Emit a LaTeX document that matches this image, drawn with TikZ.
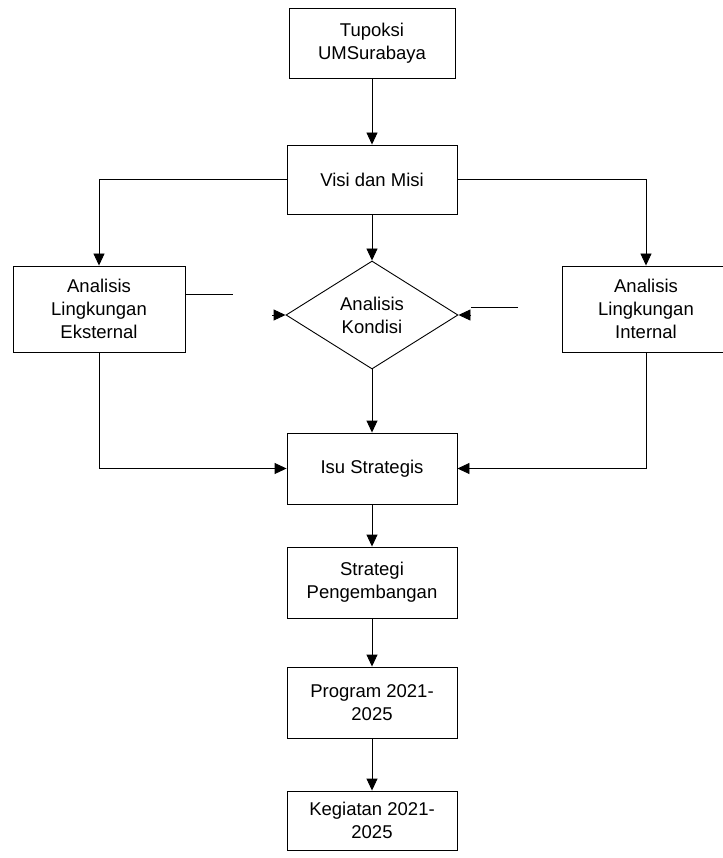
\documentclass[tikz,border=0pt]{standalone}
\usepackage{fontspec}
\setmainfont{Liberation Sans}
\usetikzlibrary{shapes.geometric,arrows.meta}
\begin{document}
\begin{tikzpicture}[x=1pt,y=-1pt,
  box/.style={draw=black,line width=0.9pt,rectangle,inner sep=0pt,align=center,
    font=\fontsize{18.5}{23}\selectfont},
  dia/.style={draw=black,line width=0.9pt,diamond,aspect=1.6,inner sep=0pt,align=center,
    minimum width=172pt,minimum height=108pt,font=\fontsize{18.5}{23}\selectfont},
  ln/.style={draw=black,line width=0.9pt},
  arr/.style={ln,-{Triangle[length=12pt,width=11pt]}}]
\useasboundingbox (0,0) rectangle (722,858);
\node[box,minimum width=166pt,minimum height=70pt] (tup) at (372,43) {Tupoksi\\UMSurabaya};
\node[box,minimum width=170pt,minimum height=69pt] (visi) at (372,179.5) {Visi dan Misi};
\node[box,minimum width=172pt,minimum height=86pt] (eks) at (99,309) {Analisis\\Lingkungan\\Eksternal};
\node[box,minimum width=168pt,minimum height=86pt] (int) at (646,309) {Analisis\\Lingkungan\\Internal};
\node[dia] (kon) at (372,315) {Analisis\\Kondisi};
\node[box,minimum width=170pt,minimum height=71pt] (isu) at (372,468.5) {Isu Strategis};
\node[box,minimum width=170pt,minimum height=71pt] (str) at (372,582.5) {Strategi\\Pengembangan};
\node[box,minimum width=170pt,minimum height=71pt] (prg) at (372,702.5) {Program 2021-\\2025};
\node[box,minimum width=170pt,minimum height=59pt] (keg) at (372,820.5) {Kegiatan 2021-\\2025};
\coordinate (s1) at (233,294);
\coordinate (la) at (272,315);
\coordinate (r1) at (518,307);
\coordinate (r2) at (471,307);
\draw[arr] (tup) -- (visi);
\draw[arr] (visi.west) -| (eks.north);
\draw[arr] (visi.east) -| (int.north);
\draw[arr] (visi) -- (kon);
\draw[ln] (eks.east |- s1) -- (s1);
\draw[arr] (la) -- (kon.west);
\draw[ln] (r1) -- (r2);
\draw[arr] (r2 |- kon.east) -- (kon.east);
\draw[arr] (kon) -- (isu);
\draw[arr] (eks.south) |- (isu.west);
\draw[arr] (int.south) |- (isu.east);
\draw[arr] (isu) -- (str);
\draw[arr] (str) -- (prg);
\draw[arr] (prg) -- (keg);
\end{tikzpicture}
\end{document}
